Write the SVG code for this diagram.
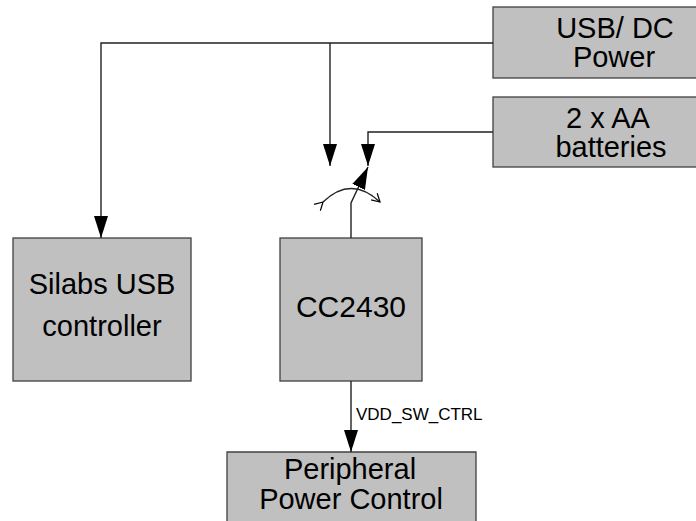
<svg xmlns="http://www.w3.org/2000/svg" width="696" height="521" viewBox="0 0 696 521">
<style>
.box{fill:#c0c0c0;stroke:#404040;stroke-width:1.3}
.t{font-family:"Liberation Sans",Arial,sans-serif;font-size:29px;fill:#000;text-anchor:middle}
.lbl{font-family:"Liberation Sans",Arial,sans-serif;font-size:17px;fill:#000}
.ln{fill:none;stroke:#222;stroke-width:1.4}
</style>
<defs>
<marker id="ah" viewBox="0 0 22 14" refX="22" refY="7" markerWidth="22" markerHeight="14" markerUnits="userSpaceOnUse" orient="auto">
<path d="M0,0 L22,7 L0,14 Z" fill="#000"/>
</marker>
<marker id="oh" viewBox="0 0 10 10" refX="9" refY="5" markerWidth="10" markerHeight="10" markerUnits="userSpaceOnUse" orient="auto">
<path d="M1,0.5 L9,5 L1,9.5" fill="none" stroke="#000" stroke-width="1.2"/>
</marker>
</defs>
<rect width="696" height="521" fill="#fff"/>
<g id="usb-power">
<rect class="box" x="493" y="7" width="250" height="71"/>
<text class="t" x="615" y="38">USB/ DC</text>
<text class="t" x="614" y="67">Power</text>
</g>
<g id="batteries">
<rect class="box" x="493" y="97" width="250" height="70"/>
<text class="t" x="608" y="128">2 x AA</text>
<text class="t" x="611" y="157">batteries</text>
</g>
<g id="silabs">
<rect class="box" x="13" y="238" width="178" height="143"/>
<text class="t" x="102" y="294">Silabs USB</text>
<text class="t" x="102" y="336">controller</text>
</g>
<g id="cc2430">
<rect class="box" x="280" y="238" width="142" height="143"/>
<text class="t" x="351" y="317" style="font-size:30px">CC2430</text>
</g>
<g id="peripheral">
<rect x="227" y="452" width="249" height="80" fill="#c0c0c0"/>
<path d="M227,532 V452 H476 V532" fill="none" stroke="#404040" stroke-width="1.3"/>
<text class="t" x="350" y="479">Peripheral</text>
<text class="t" x="351" y="509">Power Control</text>
</g>
<g id="connectors">
<path class="ln" d="M493,43 H101 V238" marker-end="url(#ah)"/>
<path class="ln" d="M330,43 V166" marker-end="url(#ah)"/>
<path class="ln" d="M493,132 H368 V166" marker-end="url(#ah)"/>
<path class="ln" d="M351,238 V203 L368,167" marker-end="url(#ah)"/>
<path class="ln" d="M323,202 Q351,175 380,202" marker-start="url(#oh)" marker-end="url(#oh)"/>
<path class="ln" d="M351,381 V452" marker-end="url(#ah)"/>
<text class="lbl" x="356" y="420">VDD_SW_CTRL</text>
</g>
</svg>
